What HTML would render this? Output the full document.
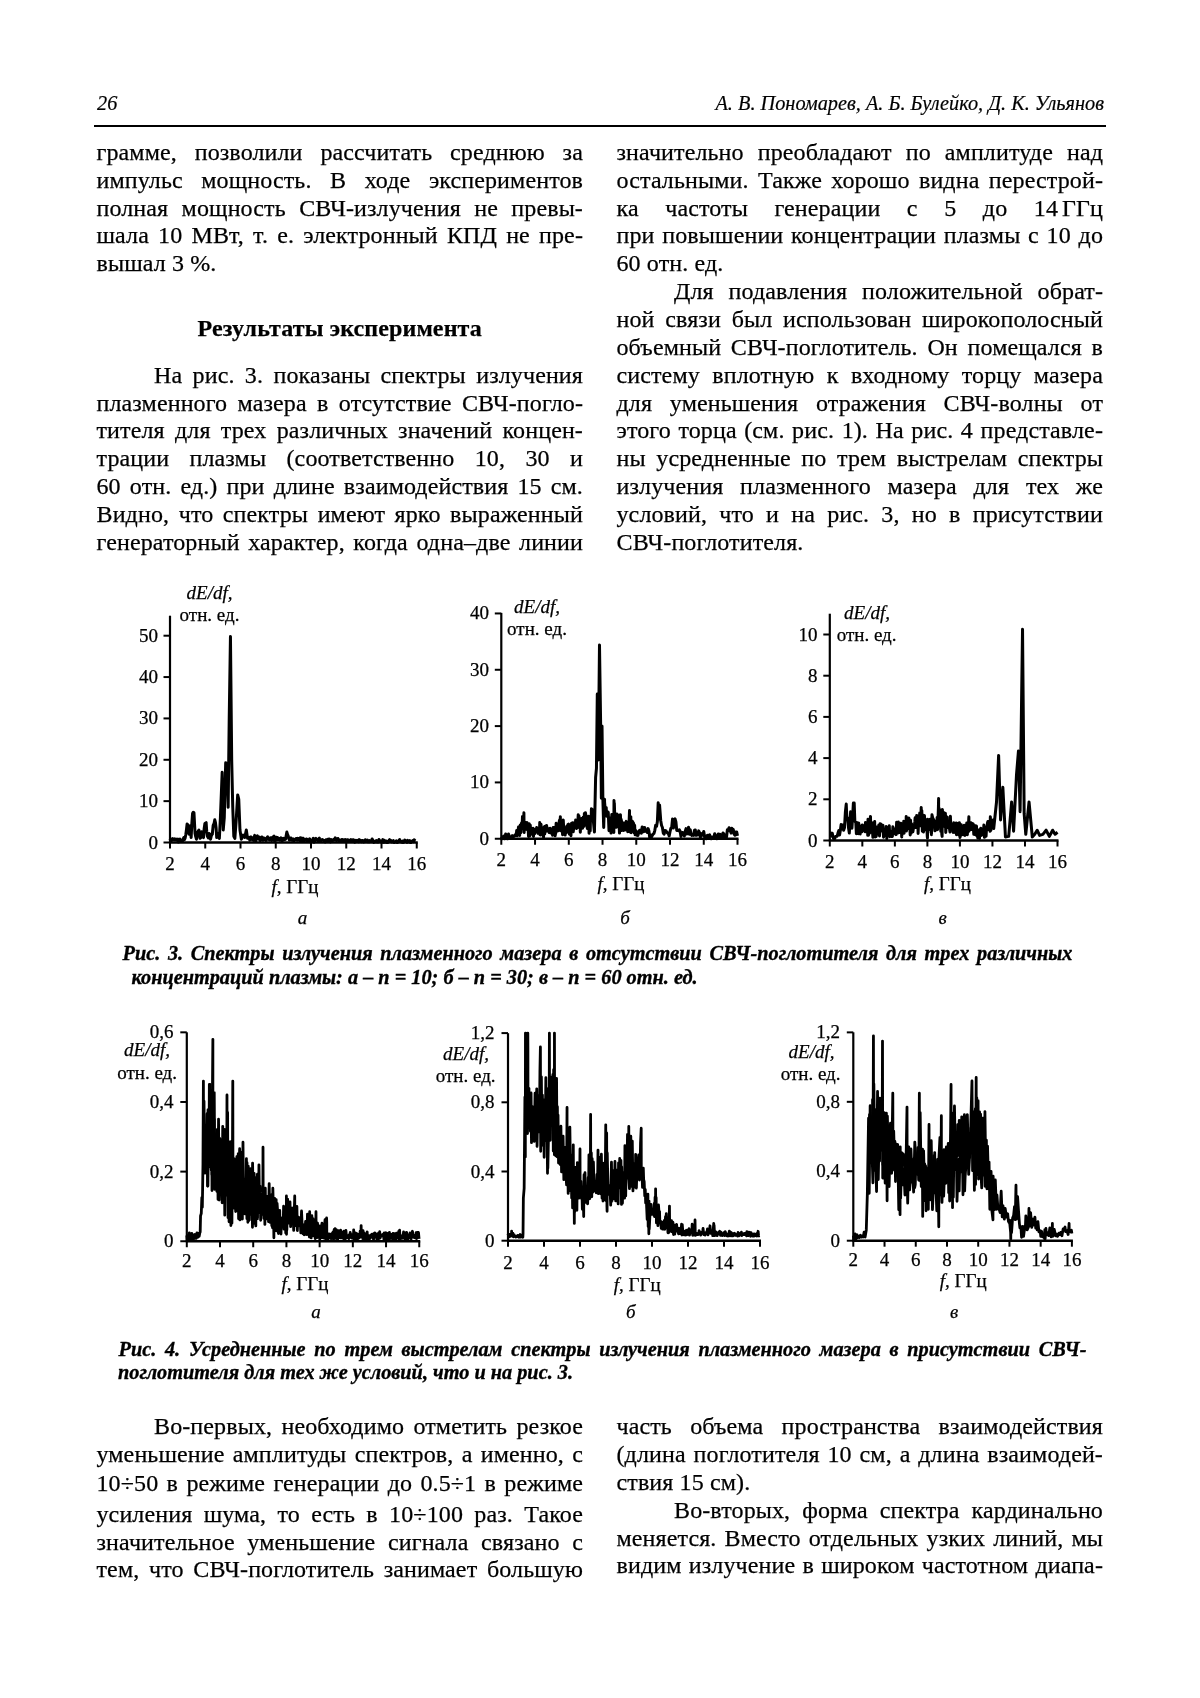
<!DOCTYPE html>
<html><head><meta charset="utf-8"><title>page</title>
<style>
html,body{margin:0;padding:0;background:#fff;}
body{width:1200px;height:1698px;position:relative;overflow:hidden;font-family:"Liberation Serif",serif;color:#000;}
.ln{position:absolute;white-space:nowrap;}
svg{position:absolute;left:0;top:0;}
.cl{font-family:"Liberation Serif",serif;font-size:19px;fill:#000;stroke:#000;stroke-width:0.25px;}
#pg{position:absolute;left:0;top:0;width:1200px;height:1698px;filter:blur(0.4px);}
</style></head><body><div id="pg">
<div class="ln" style="left:97.00px;top:91.46px;width:100.00px;font-size:20.3px;line-height:25.375px;text-align:left;text-align-last:left;font-weight:normal;font-style:italic;-webkit-text-stroke:0.2px #000;">26</div>
<div class="ln" style="left:600px;top:90.85px;width:504px;font-size:20.3px;line-height:25px;text-align:right;font-style:italic;-webkit-text-stroke:0.2px #000">А. В. Пономарев, А. Б. Булейко, Д. К. Ульянов</div>
<div style="position:absolute;left:94px;top:125px;width:1012px;height:2px;background:#000"></div>
<div class="ln" style="left:96.50px;top:136.90px;width:486.50px;font-size:24px;line-height:30.0px;text-align:justify;text-align-last:justify;font-weight:normal;font-style:normal;letter-spacing:0.12px;-webkit-text-stroke:0.25px #000;">грамме, позволили рассчитать среднюю за</div>
<div class="ln" style="left:96.50px;top:164.75px;width:486.50px;font-size:24px;line-height:30.0px;text-align:justify;text-align-last:justify;font-weight:normal;font-style:normal;letter-spacing:0.12px;-webkit-text-stroke:0.25px #000;">импульс мощность. В ходе экспериментов</div>
<div class="ln" style="left:96.50px;top:192.60px;width:486.50px;font-size:24px;line-height:30.0px;text-align:justify;text-align-last:justify;font-weight:normal;font-style:normal;letter-spacing:0.12px;-webkit-text-stroke:0.25px #000;">полная мощность СВЧ-излучения не превы-</div>
<div class="ln" style="left:96.50px;top:220.45px;width:486.50px;font-size:24px;line-height:30.0px;text-align:justify;text-align-last:justify;font-weight:normal;font-style:normal;letter-spacing:0.12px;-webkit-text-stroke:0.25px #000;">шала 10 МВт, т. е. электронный КПД не пре-</div>
<div class="ln" style="left:96.50px;top:248.30px;width:486.50px;font-size:24px;line-height:30.0px;text-align:left;text-align-last:left;font-weight:normal;font-style:normal;letter-spacing:0.12px;-webkit-text-stroke:0.25px #000;">вышал 3 %.</div>
<div class="ln" style="left:96.50px;top:313.20px;width:486.50px;font-size:24px;line-height:30.0px;text-align:left;text-align-last:left;font-weight:bold;font-style:normal;letter-spacing:0.12px;-webkit-text-stroke:0.25px #000;text-align:center;text-align-last:center;">Результаты эксперимента</div>
<div class="ln" style="left:154.00px;top:359.70px;width:429.00px;font-size:24px;line-height:30.0px;text-align:justify;text-align-last:justify;font-weight:normal;font-style:normal;letter-spacing:0.12px;-webkit-text-stroke:0.25px #000;">На рис. 3. показаны спектры излучения</div>
<div class="ln" style="left:96.50px;top:387.55px;width:486.50px;font-size:24px;line-height:30.0px;text-align:justify;text-align-last:justify;font-weight:normal;font-style:normal;letter-spacing:0.12px;-webkit-text-stroke:0.25px #000;">плазменного мазера в отсутствие СВЧ-погло-</div>
<div class="ln" style="left:96.50px;top:415.40px;width:486.50px;font-size:24px;line-height:30.0px;text-align:justify;text-align-last:justify;font-weight:normal;font-style:normal;letter-spacing:0.12px;-webkit-text-stroke:0.25px #000;">тителя для трех различных значений концен-</div>
<div class="ln" style="left:96.50px;top:443.25px;width:486.50px;font-size:24px;line-height:30.0px;text-align:justify;text-align-last:justify;font-weight:normal;font-style:normal;letter-spacing:0.12px;-webkit-text-stroke:0.25px #000;">трации плазмы (соответственно 10, 30 и</div>
<div class="ln" style="left:96.50px;top:471.10px;width:486.50px;font-size:24px;line-height:30.0px;text-align:justify;text-align-last:justify;font-weight:normal;font-style:normal;letter-spacing:0.12px;-webkit-text-stroke:0.25px #000;">60 отн. ед.) при длине взаимодействия 15 см.</div>
<div class="ln" style="left:96.50px;top:498.95px;width:486.50px;font-size:24px;line-height:30.0px;text-align:justify;text-align-last:justify;font-weight:normal;font-style:normal;letter-spacing:0.12px;-webkit-text-stroke:0.25px #000;">Видно, что спектры имеют ярко выраженный</div>
<div class="ln" style="left:96.50px;top:526.80px;width:486.50px;font-size:24px;line-height:30.0px;text-align:justify;text-align-last:justify;font-weight:normal;font-style:normal;letter-spacing:0.12px;-webkit-text-stroke:0.25px #000;">генераторный характер, когда одна–две линии</div>
<div class="ln" style="left:616.50px;top:136.90px;width:486.50px;font-size:24px;line-height:30.0px;text-align:justify;text-align-last:justify;font-weight:normal;font-style:normal;letter-spacing:0.12px;-webkit-text-stroke:0.25px #000;">значительно преобладают по амплитуде над</div>
<div class="ln" style="left:616.50px;top:164.75px;width:486.50px;font-size:24px;line-height:30.0px;text-align:justify;text-align-last:justify;font-weight:normal;font-style:normal;letter-spacing:0.12px;-webkit-text-stroke:0.25px #000;">остальными. Также хорошо видна перестрой-</div>
<div class="ln" style="left:616.50px;top:192.60px;width:486.50px;font-size:24px;line-height:30.0px;text-align:justify;text-align-last:justify;font-weight:normal;font-style:normal;letter-spacing:0.12px;-webkit-text-stroke:0.25px #000;">ка частоты генерации с 5 до <span style="white-space:nowrap">14<span style="display:inline-block;width:4px"></span>ГГц</span></div>
<div class="ln" style="left:616.50px;top:220.45px;width:486.50px;font-size:24px;line-height:30.0px;text-align:justify;text-align-last:justify;font-weight:normal;font-style:normal;letter-spacing:0.12px;-webkit-text-stroke:0.25px #000;">при повышении концентрации плазмы с 10 до</div>
<div class="ln" style="left:616.50px;top:248.30px;width:486.50px;font-size:24px;line-height:30.0px;text-align:left;text-align-last:left;font-weight:normal;font-style:normal;letter-spacing:0.12px;-webkit-text-stroke:0.25px #000;">60 отн. ед.</div>
<div class="ln" style="left:674.00px;top:276.15px;width:429.00px;font-size:24px;line-height:30.0px;text-align:justify;text-align-last:justify;font-weight:normal;font-style:normal;letter-spacing:0.12px;-webkit-text-stroke:0.25px #000;">Для подавления положительной обрат-</div>
<div class="ln" style="left:616.50px;top:304.00px;width:486.50px;font-size:24px;line-height:30.0px;text-align:justify;text-align-last:justify;font-weight:normal;font-style:normal;letter-spacing:0.12px;-webkit-text-stroke:0.25px #000;">ной связи был использован широкополосный</div>
<div class="ln" style="left:616.50px;top:331.85px;width:486.50px;font-size:24px;line-height:30.0px;text-align:justify;text-align-last:justify;font-weight:normal;font-style:normal;letter-spacing:0.12px;-webkit-text-stroke:0.25px #000;">объемный СВЧ-поглотитель. Он помещался в</div>
<div class="ln" style="left:616.50px;top:359.70px;width:486.50px;font-size:24px;line-height:30.0px;text-align:justify;text-align-last:justify;font-weight:normal;font-style:normal;letter-spacing:0.12px;-webkit-text-stroke:0.25px #000;">систему вплотную к входному торцу мазера</div>
<div class="ln" style="left:616.50px;top:387.55px;width:486.50px;font-size:24px;line-height:30.0px;text-align:justify;text-align-last:justify;font-weight:normal;font-style:normal;letter-spacing:0.12px;-webkit-text-stroke:0.25px #000;">для уменьшения отражения СВЧ-волны от</div>
<div class="ln" style="left:616.50px;top:415.40px;width:486.50px;font-size:24px;line-height:30.0px;text-align:justify;text-align-last:justify;font-weight:normal;font-style:normal;letter-spacing:0.12px;-webkit-text-stroke:0.25px #000;">этого торца (см. рис. 1). На рис. 4 представле-</div>
<div class="ln" style="left:616.50px;top:443.25px;width:486.50px;font-size:24px;line-height:30.0px;text-align:justify;text-align-last:justify;font-weight:normal;font-style:normal;letter-spacing:0.12px;-webkit-text-stroke:0.25px #000;">ны усредненные по трем выстрелам спектры</div>
<div class="ln" style="left:616.50px;top:471.10px;width:486.50px;font-size:24px;line-height:30.0px;text-align:justify;text-align-last:justify;font-weight:normal;font-style:normal;letter-spacing:0.12px;-webkit-text-stroke:0.25px #000;">излучения плазменного мазера для тех же</div>
<div class="ln" style="left:616.50px;top:498.95px;width:486.50px;font-size:24px;line-height:30.0px;text-align:justify;text-align-last:justify;font-weight:normal;font-style:normal;letter-spacing:0.12px;-webkit-text-stroke:0.25px #000;">условий, что и на рис. 3, но в присутствии</div>
<div class="ln" style="left:616.50px;top:526.80px;width:486.50px;font-size:24px;line-height:30.0px;text-align:left;text-align-last:left;font-weight:normal;font-style:normal;letter-spacing:0.12px;-webkit-text-stroke:0.25px #000;">СВЧ-поглотителя.</div>
<div class="ln" style="left:154.00px;top:1411.40px;width:429.00px;font-size:24px;line-height:30.0px;text-align:justify;text-align-last:justify;font-weight:normal;font-style:normal;letter-spacing:0.12px;-webkit-text-stroke:0.25px #000;">Во-первых, необходимо отметить резкое</div>
<div class="ln" style="left:96.50px;top:1439.20px;width:486.50px;font-size:24px;line-height:30.0px;text-align:justify;text-align-last:justify;font-weight:normal;font-style:normal;letter-spacing:0.12px;-webkit-text-stroke:0.25px #000;">уменьшение амплитуды спектров, а именно, с</div>
<div class="ln" style="left:96.50px;top:1468.45px;width:486.50px;font-size:24px;line-height:30.0px;text-align:justify;text-align-last:justify;font-weight:normal;font-style:normal;letter-spacing:0.12px;-webkit-text-stroke:0.25px #000;">10÷50 в режиме генерации до 0.5÷1 в режиме</div>
<div class="ln" style="left:96.50px;top:1499.10px;width:486.50px;font-size:24px;line-height:30.0px;text-align:justify;text-align-last:justify;font-weight:normal;font-style:normal;letter-spacing:0.12px;-webkit-text-stroke:0.25px #000;">усиления шума, то есть в 10÷100 раз. Такое</div>
<div class="ln" style="left:96.50px;top:1526.50px;width:486.50px;font-size:24px;line-height:30.0px;text-align:justify;text-align-last:justify;font-weight:normal;font-style:normal;letter-spacing:0.12px;-webkit-text-stroke:0.25px #000;">значительное уменьшение сигнала связано с</div>
<div class="ln" style="left:96.50px;top:1554.30px;width:486.50px;font-size:24px;line-height:30.0px;text-align:justify;text-align-last:justify;font-weight:normal;font-style:normal;letter-spacing:0.12px;-webkit-text-stroke:0.25px #000;">тем, что СВЧ-поглотитель занимает большую</div>
<div class="ln" style="left:616.50px;top:1411.40px;width:486.50px;font-size:24px;line-height:30.0px;text-align:justify;text-align-last:justify;font-weight:normal;font-style:normal;letter-spacing:0.12px;-webkit-text-stroke:0.25px #000;">часть объема пространства взаимодействия</div>
<div class="ln" style="left:616.50px;top:1439.20px;width:486.50px;font-size:24px;line-height:30.0px;text-align:justify;text-align-last:justify;font-weight:normal;font-style:normal;letter-spacing:0.12px;-webkit-text-stroke:0.25px #000;">(длина поглотителя 10 см, а длина взаимодей-</div>
<div class="ln" style="left:616.50px;top:1467.00px;width:486.50px;font-size:24px;line-height:30.0px;text-align:left;text-align-last:left;font-weight:normal;font-style:normal;letter-spacing:0.12px;-webkit-text-stroke:0.25px #000;">ствия 15 см).</div>
<div class="ln" style="left:674.00px;top:1494.80px;width:429.00px;font-size:24px;line-height:30.0px;text-align:justify;text-align-last:justify;font-weight:normal;font-style:normal;letter-spacing:0.12px;-webkit-text-stroke:0.25px #000;">Во-вторых, форма спектра кардинально</div>
<div class="ln" style="left:616.50px;top:1522.50px;width:486.50px;font-size:24px;line-height:30.0px;text-align:justify;text-align-last:justify;font-weight:normal;font-style:normal;letter-spacing:0.12px;-webkit-text-stroke:0.25px #000;">меняется. Вместо отдельных узких линий, мы</div>
<div class="ln" style="left:616.50px;top:1550.30px;width:486.50px;font-size:24px;line-height:30.0px;text-align:justify;text-align-last:justify;font-weight:normal;font-style:normal;letter-spacing:0.12px;-webkit-text-stroke:0.25px #000;">видим излучение в широком частотном диапа-</div>
<div class="ln" style="left:122.50px;top:941.46px;width:950.00px;font-size:20.3px;line-height:25.375px;text-align:justify;text-align-last:justify;font-weight:bold;font-style:italic;-webkit-text-stroke:0.35px #000;">Рис. 3. Спектры излучения плазменного мазера в отсутствии СВЧ-поглотителя для трех различных</div>
<div class="ln" style="left:131.50px;top:964.56px;width:900.00px;font-size:20.3px;line-height:25.375px;text-align:left;text-align-last:left;font-weight:bold;font-style:italic;-webkit-text-stroke:0.35px #000;">концентраций плазмы: а – n = 10; б – n = 30; в – n = 60 отн. ед.</div>
<div class="ln" style="left:118.50px;top:1337.16px;width:968.00px;font-size:20.3px;line-height:25.375px;text-align:justify;text-align-last:justify;font-weight:bold;font-style:italic;-webkit-text-stroke:0.35px #000;">Рис. 4. Усредненные по трем выстрелам спектры излучения плазменного мазера в присутствии СВЧ-</div>
<div class="ln" style="left:118.00px;top:1360.16px;width:900.00px;font-size:20.3px;line-height:25.375px;text-align:left;text-align-last:left;font-weight:bold;font-style:italic;-webkit-text-stroke:0.35px #000;">поглотителя для тех же условий, что и на рис. 3.</div>
<svg width="1200" height="1698" viewBox="0 0 1200 1698">
<line x1="170" y1="615.7" x2="170" y2="842.5" stroke="#000" stroke-width="2.2"/>
<line x1="169" y1="842.5" x2="417.75" y2="842.5" stroke="#000" stroke-width="2.5"/>
<line x1="163.5" y1="842.50" x2="170" y2="842.50" stroke="#000" stroke-width="2"/>
<text x="158" y="848.50" text-anchor="end" class="cl">0</text>
<line x1="163.5" y1="801.14" x2="170" y2="801.14" stroke="#000" stroke-width="2"/>
<text x="158" y="807.14" text-anchor="end" class="cl">10</text>
<line x1="163.5" y1="759.78" x2="170" y2="759.78" stroke="#000" stroke-width="2"/>
<text x="158" y="765.78" text-anchor="end" class="cl">20</text>
<line x1="163.5" y1="718.42" x2="170" y2="718.42" stroke="#000" stroke-width="2"/>
<text x="158" y="724.42" text-anchor="end" class="cl">30</text>
<line x1="163.5" y1="677.06" x2="170" y2="677.06" stroke="#000" stroke-width="2"/>
<text x="158" y="683.06" text-anchor="end" class="cl">40</text>
<line x1="163.5" y1="635.70" x2="170" y2="635.70" stroke="#000" stroke-width="2"/>
<text x="158" y="641.70" text-anchor="end" class="cl">50</text>
<line x1="170.00" y1="842.5" x2="170.00" y2="848.5" stroke="#000" stroke-width="2"/>
<text x="170.00" y="869.5" text-anchor="middle" class="cl">2</text>
<line x1="205.25" y1="842.5" x2="205.25" y2="848.5" stroke="#000" stroke-width="2"/>
<text x="205.25" y="869.5" text-anchor="middle" class="cl">4</text>
<line x1="240.50" y1="842.5" x2="240.50" y2="848.5" stroke="#000" stroke-width="2"/>
<text x="240.50" y="869.5" text-anchor="middle" class="cl">6</text>
<line x1="275.75" y1="842.5" x2="275.75" y2="848.5" stroke="#000" stroke-width="2"/>
<text x="275.75" y="869.5" text-anchor="middle" class="cl">8</text>
<line x1="311.00" y1="842.5" x2="311.00" y2="848.5" stroke="#000" stroke-width="2"/>
<text x="311.00" y="869.5" text-anchor="middle" class="cl">10</text>
<line x1="346.25" y1="842.5" x2="346.25" y2="848.5" stroke="#000" stroke-width="2"/>
<text x="346.25" y="869.5" text-anchor="middle" class="cl">12</text>
<line x1="381.50" y1="842.5" x2="381.50" y2="848.5" stroke="#000" stroke-width="2"/>
<text x="381.50" y="869.5" text-anchor="middle" class="cl">14</text>
<line x1="416.75" y1="842.5" x2="416.75" y2="848.5" stroke="#000" stroke-width="2"/>
<text x="416.75" y="869.5" text-anchor="middle" class="cl">16</text>
<text x="295" y="893" text-anchor="middle" class="cl"><tspan font-style="italic">f</tspan>, ГГц</text>
<text x="302.5" y="923.7" text-anchor="middle" class="cl" font-style="italic">а</text>
<text x="209.5" y="599.3" text-anchor="middle" class="cl" font-style="italic">dE/df,</text>
<text x="209.5" y="620.7" text-anchor="middle" class="cl">отн. ед.</text>
<polyline points="170.00,840.43 170.66,838.94 171.32,840.93 171.98,839.40 172.64,838.66 173.30,839.56 173.97,839.91 174.63,838.93 175.29,840.02 175.95,839.08 176.61,840.22 177.27,839.77 177.93,839.03 178.59,842.09 179.25,839.52 179.91,839.15 180.57,840.23 181.22,840.57 181.87,839.99 182.51,841.12 183.16,839.14 183.81,837.61 184.45,839.60 185.16,837.87 185.86,834.23 186.48,829.33 187.10,823.89 188.15,825.13 189.03,834.23 190.09,825.96 191.15,837.54 191.85,823.27 192.56,813.55 193.26,812.22 193.97,812.72 195.03,833.40 195.73,836.69 196.44,839.19 197.14,834.63 197.85,831.75 198.91,830.09 199.96,838.36 200.84,837.58 201.72,831.75 202.61,836.65 203.49,837.54 204.19,828.36 204.90,823.47 206.13,822.65 206.75,831.66 207.37,836.30 208.25,837.86 209.13,833.40 209.83,834.18 210.54,839.19 211.42,835.45 212.30,834.23 213.18,825.30 214.06,823.47 214.77,819.73 215.47,822.65 216.09,827.64 216.71,837.54 217.94,833.40 218.64,836.72 219.35,838.36 220.41,817.68 222.17,772.19 223.23,830.09 224.28,817.68 225.69,762.68 227.11,763.92 228.16,807.34 229.22,718.42 230.45,636.53 231.69,759.78 232.75,807.34 233.80,836.30 234.86,838.36 236.09,821.82 237.68,794.94 238.74,799.07 239.97,830.09 241.38,839.19 243.14,835.06 244.73,837.54 246.32,830.09 247.55,838.36 248.43,837.59 249.11,837.28 249.78,840.13 250.39,837.67 250.99,836.94 251.59,837.36 252.28,839.68 252.97,839.85 253.56,840.29 254.16,836.93 254.69,835.38 255.23,837.58 255.77,841.11 256.30,839.32 256.84,836.77 257.38,835.83 257.92,838.61 258.46,837.01 259.00,836.91 259.53,839.68 260.23,840.70 260.92,838.18 261.61,837.00 262.29,837.26 262.98,840.22 263.59,839.53 264.21,838.06 264.79,838.75 265.36,839.60 266.13,840.47 266.90,837.79 267.57,836.84 268.23,838.88 268.89,839.41 269.45,839.96 270.01,838.13 270.58,837.81 271.15,837.79 271.72,840.55 272.29,839.14 272.86,837.08 273.43,836.79 274.06,836.08 274.68,841.23 275.31,840.61 275.84,839.44 276.37,837.19 276.90,839.84 277.44,837.53 277.97,839.38 278.51,838.61 279.04,838.51 279.58,840.12 280.23,838.75 280.88,837.83 281.48,838.32 282.07,841.23 282.67,839.94 283.37,838.34 284.07,839.64 284.77,838.30 285.46,839.36 286.15,835.80 286.86,832.06 287.56,834.66 288.14,835.77 288.72,838.46 289.31,840.07 290.34,837.98 290.93,838.07 291.52,840.17 292.28,839.57 293.03,838.79 293.65,841.18 294.26,840.50 295.04,839.19 295.82,838.74 296.48,838.48 297.15,840.30 297.79,838.38 298.43,838.52 299.04,839.40 299.65,840.69 300.28,837.70 300.91,838.12 301.50,838.08 302.09,841.27 302.68,838.45 303.27,838.35 303.85,839.58 304.42,840.70 305.00,840.44 305.64,839.90 306.28,838.97 306.91,839.19 307.44,841.41 307.97,841.09 308.52,840.10 309.06,839.78 309.61,838.79 310.19,841.72 310.78,840.67 311.39,840.64 311.99,840.36 312.60,839.60 313.29,838.27 313.98,842.20 314.66,840.94 315.24,838.77 315.82,838.32 316.40,839.37 316.99,839.48 317.58,840.42 318.19,840.86 318.80,838.71 319.34,838.17 319.89,841.14 320.44,841.10 320.98,840.99 321.70,839.62 322.42,839.51 322.96,840.08 323.51,840.19 324.05,841.09 324.59,840.55 325.33,842.01 326.06,839.70 326.69,841.05 327.32,841.42 327.93,839.20 328.53,839.29 329.24,838.97 329.95,841.11 330.64,841.94 331.32,839.65 331.98,839.94 332.63,840.65 333.41,840.43 334.20,839.04 334.73,839.84 335.27,837.86 335.81,838.98 336.35,840.62 336.88,840.42 337.41,840.25 337.94,838.43 338.47,839.94 339.10,840.92 339.73,840.05 340.37,841.56 340.95,839.88 341.53,839.77 342.25,839.49 342.96,841.00 343.50,840.89 344.03,839.73 344.57,840.15 345.31,839.68 346.06,841.55 346.59,841.35 347.12,839.73 347.90,839.70 348.68,841.50 349.23,841.09 349.77,840.44 350.32,840.21 350.86,839.61 351.51,840.98 352.16,841.46 352.86,839.66 353.55,839.63 354.15,840.71 354.76,842.14 355.36,841.81 356.04,840.39 356.73,841.21 357.41,840.42 358.07,840.83 358.73,841.76 359.30,839.64 359.88,840.24 360.45,840.21 361.47,841.72 362.42,840.50 362.98,840.74 363.53,841.86 364.08,840.78 364.64,841.79 365.32,839.75 366.00,840.08 366.69,840.26 367.27,840.03 367.85,841.64 368.60,841.74 369.35,840.61 369.93,841.69 370.51,841.45 371.05,841.58 371.58,840.79 372.12,838.96 372.66,839.98 373.27,840.74 373.89,842.33 374.50,841.93 375.13,841.34 375.76,841.75 376.38,840.49 376.97,840.88 377.56,842.12 378.25,842.06 378.94,839.57 379.63,840.41 380.16,841.07 380.70,841.09 381.23,841.55 381.77,842.28 382.30,841.92 382.83,839.60 383.36,840.43 383.93,842.39 384.51,840.34 385.09,841.55 385.77,842.10 386.44,841.00 387.14,842.50 387.83,842.44 388.52,841.48 389.07,840.41 389.61,839.67 390.15,840.92 390.72,840.30 391.29,841.58 391.98,842.03 392.67,841.00 393.36,840.68 394.05,842.50 394.74,842.21 395.29,842.00 395.84,842.04 396.39,840.84 397.10,842.50 397.81,841.97 398.36,841.91 398.91,840.51 399.60,839.51 400.29,841.26 400.99,841.79 401.74,842.13 402.49,840.97 403.24,842.50 403.98,841.99 404.72,840.04 405.46,840.64 406.47,841.59 407.07,842.40 407.68,840.39 408.68,841.58 409.68,840.64 410.27,842.50 410.86,842.50 411.46,841.67 412.45,840.79 413.04,840.40 413.62,841.72 414.34,839.87 415.05,840.94" fill="none" stroke="#000" stroke-width="3" stroke-linejoin="round"/>
<line x1="501.3" y1="612.9" x2="501.3" y2="838.75" stroke="#000" stroke-width="2.2"/>
<line x1="500.3" y1="838.75" x2="738.5" y2="838.75" stroke="#000" stroke-width="2.5"/>
<line x1="494.8" y1="838.75" x2="501.3" y2="838.75" stroke="#000" stroke-width="2"/>
<text x="489" y="844.75" text-anchor="end" class="cl">0</text>
<line x1="494.8" y1="782.42" x2="501.3" y2="782.42" stroke="#000" stroke-width="2"/>
<text x="489" y="788.42" text-anchor="end" class="cl">10</text>
<line x1="494.8" y1="726.10" x2="501.3" y2="726.10" stroke="#000" stroke-width="2"/>
<text x="489" y="732.10" text-anchor="end" class="cl">20</text>
<line x1="494.8" y1="669.77" x2="501.3" y2="669.77" stroke="#000" stroke-width="2"/>
<text x="489" y="675.77" text-anchor="end" class="cl">30</text>
<line x1="494.8" y1="613.45" x2="501.3" y2="613.45" stroke="#000" stroke-width="2"/>
<text x="489" y="619.45" text-anchor="end" class="cl">40</text>
<line x1="501.30" y1="838.75" x2="501.30" y2="844.75" stroke="#000" stroke-width="2"/>
<text x="501.30" y="866.3" text-anchor="middle" class="cl">2</text>
<line x1="535.04" y1="838.75" x2="535.04" y2="844.75" stroke="#000" stroke-width="2"/>
<text x="535.04" y="866.3" text-anchor="middle" class="cl">4</text>
<line x1="568.79" y1="838.75" x2="568.79" y2="844.75" stroke="#000" stroke-width="2"/>
<text x="568.79" y="866.3" text-anchor="middle" class="cl">6</text>
<line x1="602.53" y1="838.75" x2="602.53" y2="844.75" stroke="#000" stroke-width="2"/>
<text x="602.53" y="866.3" text-anchor="middle" class="cl">8</text>
<line x1="636.27" y1="838.75" x2="636.27" y2="844.75" stroke="#000" stroke-width="2"/>
<text x="636.27" y="866.3" text-anchor="middle" class="cl">10</text>
<line x1="670.01" y1="838.75" x2="670.01" y2="844.75" stroke="#000" stroke-width="2"/>
<text x="670.01" y="866.3" text-anchor="middle" class="cl">12</text>
<line x1="703.76" y1="838.75" x2="703.76" y2="844.75" stroke="#000" stroke-width="2"/>
<text x="703.76" y="866.3" text-anchor="middle" class="cl">14</text>
<line x1="737.50" y1="838.75" x2="737.50" y2="844.75" stroke="#000" stroke-width="2"/>
<text x="737.50" y="866.3" text-anchor="middle" class="cl">16</text>
<text x="621" y="890" text-anchor="middle" class="cl"><tspan font-style="italic">f</tspan>, ГГц</text>
<text x="625" y="923.7" text-anchor="middle" class="cl" font-style="italic">б</text>
<text x="537" y="612.7" text-anchor="middle" class="cl" font-style="italic">dE/df,</text>
<text x="537" y="634.7" text-anchor="middle" class="cl">отн. ед.</text>
<polyline points="501.30,837.06 502.02,838.75 502.75,836.90 503.47,836.21 504.19,838.75 504.92,838.75 505.64,834.00 506.36,836.50 507.08,838.75 507.81,838.75 508.53,834.04 509.25,836.08 509.98,837.69 510.70,836.91 511.42,837.06 512.27,835.70 513.11,837.66 513.95,835.93 514.80,835.38 515.39,835.77 515.80,834.12 516.20,835.50 516.71,830.46 517.26,835.74 517.85,833.16 518.48,827.03 518.93,827.28 519.67,835.43 520.24,825.09 520.81,832.69 521.52,823.02 522.12,826.61 522.49,816.56 522.86,826.76 523.37,828.20 523.91,812.84 524.08,829.97 524.10,832.56 524.53,825.61 524.82,825.16 525.11,822.12 525.66,829.31 525.99,822.89 526.71,827.04 526.99,822.48 527.56,830.00 527.95,824.42 528.53,836.43 529.24,823.80 529.61,836.23 530.26,825.02 530.71,831.41 531.30,830.20 531.59,833.00 532.28,831.87 532.77,835.14 533.14,828.22 533.49,836.47 534.09,829.34 534.71,833.67 535.41,829.59 536.07,831.13 536.67,827.48 537.00,830.11 537.59,831.47 538.03,833.30 538.40,828.27 539.04,833.20 539.51,829.89 539.77,822.42 539.90,834.64 539.94,832.82 540.18,826.11 540.59,835.11 541.04,824.30 541.43,834.26 542.15,830.90 542.53,828.78 542.92,829.15 543.24,832.07 543.56,837.34 543.65,828.59 543.73,827.72 543.95,831.52 544.25,826.70 544.76,834.01 545.23,826.33 545.88,831.44 546.30,829.52 546.56,825.42 547.03,827.97 547.65,831.01 548.07,829.07 548.36,828.87 549.11,832.42 549.75,831.38 550.18,828.25 550.43,833.03 551.14,829.53 551.84,830.22 552.12,832.65 552.57,835.23 553.19,827.48 553.82,833.94 554.19,831.78 554.48,834.25 554.78,827.26 555.14,835.85 555.45,833.99 555.75,833.05 556.14,823.36 556.84,831.13 557.46,827.81 558.14,830.89 558.83,824.96 559.26,821.17 559.72,819.73 560.14,827.09 560.35,816.78 560.52,830.78 560.89,824.20 561.63,828.12 562.14,828.75 562.58,834.64 563.26,820.03 563.97,833.46 564.70,827.89 565.16,835.12 565.64,827.46 566.20,832.97 566.82,826.18 567.42,831.33 567.85,824.71 568.55,824.07 568.81,827.02 569.37,834.22 569.96,828.86 570.26,830.28 570.70,825.07 570.97,835.75 571.56,823.31 572.27,825.65 572.92,822.65 573.23,831.73 573.73,827.77 574.04,828.36 574.75,827.23 575.12,827.76 575.67,819.96 576.12,827.94 576.52,828.49 577.07,827.27 577.37,826.10 577.86,821.87 578.25,814.67 578.69,822.50 579.00,816.08 579.26,827.77 579.81,818.23 580.31,832.25 580.86,822.51 581.55,818.40 582.07,823.38 582.59,828.14 583.21,817.31 583.74,826.41 584.39,813.43 584.97,820.22 585.44,812.63 585.92,815.57 586.60,825.25 587.35,828.42 587.82,821.48 588.17,822.14 588.67,816.36 589.05,833.33 589.73,820.58 590.20,830.90 590.50,817.29 591.09,820.89 591.42,808.67 592.74,810.03 593.59,823.50 594.43,831.99 595.61,777.36 596.45,768.34 597.30,693.99 598.31,759.89 599.49,644.99 600.67,726.10 601.35,798.20 602.02,726.10 602.87,799.32 603.71,827.49 604.55,799.32 604.55,801.58 605.06,807.84 605.66,814.06 606.19,807.43 606.65,816.19 607.36,811.40 607.69,815.95 608.25,812.32 609.00,830.79 609.62,817.87 610.18,823.17 610.94,821.23 611.05,833.12 611.22,819.32 611.34,831.53 611.78,814.50 612.47,832.09 613.12,814.29 613.82,832.50 614.00,800.45 614.17,823.32 614.33,803.13 615.02,825.03 615.56,814.00 616.22,827.34 616.97,814.04 617.27,826.60 617.75,819.62 618.02,822.04 618.45,823.17 618.83,820.73 619.30,828.93 619.48,833.12 619.65,815.02 620.05,825.81 620.44,814.70 620.76,830.59 621.18,819.26 621.47,830.59 621.77,821.47 622.27,829.21 622.87,823.31 623.31,830.48 623.63,827.92 623.93,830.01 624.29,823.06 624.89,829.98 625.29,826.19 625.64,825.49 626.25,821.38 626.51,824.85 626.96,822.43 627.68,831.64 628.26,827.86 628.88,827.79 629.52,810.59 629.55,815.98 629.69,826.82 629.93,832.05 630.23,818.09 630.50,825.58 630.79,816.65 631.12,832.64 631.78,822.35 632.23,821.12 632.58,821.56 633.22,822.89 633.62,823.45 634.16,832.86 634.60,825.16 635.13,834.86 635.51,831.05 635.80,830.61 636.33,831.33 636.96,835.19 637.53,832.70 637.96,835.42 638.80,831.99 639.65,830.19 640.49,832.81 641.33,833.12 642.18,826.92 643.02,827.49 643.86,831.63 644.71,827.49 645.55,831.13 646.39,830.30 647.24,832.39 648.08,828.61 648.92,831.00 649.77,838.19 650.61,835.04 651.46,837.11 652.30,835.37 653.14,834.16 653.99,833.39 654.83,830.30 655.67,825.34 656.52,826.36 657.36,821.73 658.20,802.70 658.88,818.93 659.55,804.96 660.74,820.73 661.58,825.51 662.42,827.49 663.27,833.05 664.11,834.24 664.95,830.54 665.80,830.67 666.64,831.99 667.48,832.98 668.33,833.48 669.17,835.93 670.01,831.76 670.86,828.32 671.70,827.49 672.54,818.97 673.39,828.11 674.23,820.73 675.08,818.80 675.92,821.85 676.76,830.39 677.61,830.30 678.45,830.71 679.29,829.74 680.14,831.25 680.98,836.50 681.82,832.79 682.67,832.55 683.51,833.12 684.36,836.06 685.20,831.46 686.04,828.61 686.89,834.09 687.73,833.12 688.57,827.21 689.42,834.27 690.26,829.74 691.10,834.48 691.95,835.37 692.79,834.76 693.63,835.31 694.48,830.30 695.32,830.04 696.16,835.37 697.01,832.84 697.85,834.93 698.70,830.86 699.54,832.57 700.38,837.21 701.23,835.93 702.07,833.65 702.91,834.82 703.76,831.43 704.60,837.02 705.44,837.06 706.12,838.75 706.79,836.05 707.47,835.22 708.14,836.76 708.82,835.37 709.66,834.93 710.51,837.11 711.35,838.75 712.19,837.06 713.04,837.89 713.88,837.13 714.72,833.73 715.57,835.93 716.24,838.48 716.92,838.75 717.59,836.24 718.27,834.04 718.94,837.06 719.78,834.18 720.63,835.01 721.47,838.40 722.32,835.37 722.99,832.95 723.67,833.76 724.34,837.72 725.02,835.18 725.69,834.81 726.53,837.12 727.38,829.75 728.22,830.86 729.06,827.76 729.91,829.74 731.09,833.12 731.76,828.23 732.44,829.17 733.28,829.48 734.13,834.24 734.97,835.11 735.81,831.99 736.66,831.92 737.50,835.93" fill="none" stroke="#000" stroke-width="3" stroke-linejoin="round"/>
<line x1="829.8" y1="613.7" x2="829.8" y2="840.5" stroke="#000" stroke-width="2.2"/>
<line x1="828.8" y1="840.5" x2="1058.5" y2="840.5" stroke="#000" stroke-width="2.5"/>
<line x1="823.3" y1="840.50" x2="829.8" y2="840.50" stroke="#000" stroke-width="2"/>
<text x="817.5" y="846.50" text-anchor="end" class="cl">0</text>
<line x1="823.3" y1="799.30" x2="829.8" y2="799.30" stroke="#000" stroke-width="2"/>
<text x="817.5" y="805.30" text-anchor="end" class="cl">2</text>
<line x1="823.3" y1="758.10" x2="829.8" y2="758.10" stroke="#000" stroke-width="2"/>
<text x="817.5" y="764.10" text-anchor="end" class="cl">4</text>
<line x1="823.3" y1="716.90" x2="829.8" y2="716.90" stroke="#000" stroke-width="2"/>
<text x="817.5" y="722.90" text-anchor="end" class="cl">6</text>
<line x1="823.3" y1="675.70" x2="829.8" y2="675.70" stroke="#000" stroke-width="2"/>
<text x="817.5" y="681.70" text-anchor="end" class="cl">8</text>
<line x1="823.3" y1="634.50" x2="829.8" y2="634.50" stroke="#000" stroke-width="2"/>
<text x="817.5" y="640.50" text-anchor="end" class="cl">10</text>
<line x1="829.80" y1="840.5" x2="829.80" y2="846.5" stroke="#000" stroke-width="2"/>
<text x="829.80" y="867.5" text-anchor="middle" class="cl">2</text>
<line x1="862.33" y1="840.5" x2="862.33" y2="846.5" stroke="#000" stroke-width="2"/>
<text x="862.33" y="867.5" text-anchor="middle" class="cl">4</text>
<line x1="894.86" y1="840.5" x2="894.86" y2="846.5" stroke="#000" stroke-width="2"/>
<text x="894.86" y="867.5" text-anchor="middle" class="cl">6</text>
<line x1="927.39" y1="840.5" x2="927.39" y2="846.5" stroke="#000" stroke-width="2"/>
<text x="927.39" y="867.5" text-anchor="middle" class="cl">8</text>
<line x1="959.91" y1="840.5" x2="959.91" y2="846.5" stroke="#000" stroke-width="2"/>
<text x="959.91" y="867.5" text-anchor="middle" class="cl">10</text>
<line x1="992.44" y1="840.5" x2="992.44" y2="846.5" stroke="#000" stroke-width="2"/>
<text x="992.44" y="867.5" text-anchor="middle" class="cl">12</text>
<line x1="1024.97" y1="840.5" x2="1024.97" y2="846.5" stroke="#000" stroke-width="2"/>
<text x="1024.97" y="867.5" text-anchor="middle" class="cl">14</text>
<line x1="1057.50" y1="840.5" x2="1057.50" y2="846.5" stroke="#000" stroke-width="2"/>
<text x="1057.50" y="867.5" text-anchor="middle" class="cl">16</text>
<text x="947.5" y="890" text-anchor="middle" class="cl"><tspan font-style="italic">f</tspan>, ГГц</text>
<text x="942.5" y="923.7" text-anchor="middle" class="cl" font-style="italic">в</text>
<text x="867" y="618.7" text-anchor="middle" class="cl" font-style="italic">dE/df,</text>
<text x="866.6" y="641.3" text-anchor="middle" class="cl">отн. ед.</text>
<polyline points="829.80,833.29 830.78,833.08 831.53,836.04 832.29,833.25 833.05,837.41 833.87,838.95 834.68,838.67 835.49,836.38 836.31,836.40 837.12,836.21 837.93,833.29 838.75,830.59 839.56,835.00 840.37,830.20 841.10,824.60 841.84,828.96 842.73,825.08 843.62,830.20 844.49,827.73 845.36,812.24 846.23,804.04 846.96,820.25 847.69,817.84 848.50,827.88 849.32,833.08 850.62,811.66 851.27,821.10 851.92,828.14 852.65,816.24 853.38,803.01 854.20,803.01 854.85,821.18 855.82,822.51 856.37,833.68 856.95,822.38 857.61,833.00 858.02,823.72 858.39,833.82 858.73,822.99 859.24,832.05 859.62,825.45 860.15,833.94 860.40,832.10 860.93,830.77 861.60,831.03 862.03,831.79 862.36,824.91 863.00,827.14 863.59,825.66 864.12,828.17 864.58,830.04 865.17,831.76 865.47,822.51 865.99,824.06 866.42,830.32 866.69,829.84 867.14,824.06 867.75,835.32 868.00,819.18 868.52,835.20 869.15,821.03 869.57,833.31 869.83,826.30 870.18,824.78 870.46,816.40 870.56,819.25 870.62,831.83 870.81,829.94 871.29,821.88 871.93,832.48 872.36,828.89 872.90,837.33 873.60,828.04 874.12,823.18 874.66,821.54 875.03,836.96 875.53,834.15 876.21,836.48 876.91,826.89 877.56,834.12 878.17,833.69 878.46,831.19 878.84,824.96 879.53,835.94 880.04,823.83 880.60,830.63 880.97,824.04 881.37,830.19 881.76,825.63 882.43,831.20 882.93,825.14 883.56,837.21 884.19,830.01 884.89,835.52 885.14,830.70 885.81,832.12 886.24,826.47 886.81,831.43 886.81,838.85 886.97,828.47 887.51,829.14 887.86,828.59 888.19,830.63 888.60,832.17 889.29,825.73 889.74,836.68 890.36,831.54 890.66,835.56 890.97,832.70 891.47,836.37 891.85,835.35 892.36,836.38 892.86,826.84 893.37,834.04 893.89,829.77 894.41,833.70 894.86,831.98 895.27,832.76 895.56,828.73 896.08,834.63 896.64,822.15 897.11,832.04 897.50,823.37 898.09,832.95 898.39,822.01 899.10,832.59 899.52,826.40 899.79,832.14 900.25,826.20 900.76,823.22 901.18,825.06 901.74,836.94 902.37,823.60 902.77,828.13 903.07,833.25 903.46,829.01 903.78,821.15 904.12,833.19 904.49,824.42 904.97,829.20 905.38,824.95 905.64,823.37 906.12,820.91 906.24,816.40 906.40,830.96 906.85,828.72 907.57,822.83 908.18,828.40 908.84,817.93 909.31,826.55 909.83,826.40 910.19,835.04 910.54,820.35 911.20,833.31 911.61,823.73 912.02,832.04 912.52,826.33 912.88,831.74 913.52,827.79 914.21,826.46 914.50,824.71 914.84,821.43 915.12,817.77 915.62,827.58 915.97,823.50 916.34,824.60 916.67,815.49 917.16,818.94 917.68,816.08 918.11,833.45 918.48,824.38 919.16,826.01 919.72,813.10 920.01,818.29 920.51,825.78 921.21,807.54 921.24,819.71 921.37,825.73 921.80,810.60 922.34,831.29 922.70,814.85 923.40,832.05 924.03,826.73 924.44,815.53 924.69,819.85 925.42,824.65 926.03,823.08 926.36,830.33 926.63,822.46 927.29,836.54 927.47,838.03 927.54,819.35 927.63,822.45 927.81,832.61 928.31,821.68 928.95,828.04 929.37,820.53 929.77,826.05 930.19,819.20 930.44,829.70 931.15,827.37 931.45,834.65 931.97,814.72 932.67,817.93 933.31,819.08 933.58,820.35 934.20,823.38 934.88,830.82 935.32,821.19 935.57,823.55 936.15,823.68 936.81,829.86 937.12,817.51 937.67,829.49 938.39,808.13 938.61,798.48 938.64,810.92 938.77,824.25 939.18,808.20 939.76,821.04 940.30,810.18 940.82,831.47 941.15,812.91 941.82,834.34 942.10,836.38 942.27,814.26 942.40,809.53 943.11,824.72 943.68,812.61 944.22,816.33 944.71,814.60 945.03,826.96 945.39,813.29 945.76,832.38 946.47,819.98 946.79,826.96 947.21,816.95 947.52,827.50 947.93,822.43 948.66,822.54 949.32,827.61 950.00,831.92 950.39,816.34 950.83,827.86 951.54,824.39 952.18,824.19 952.59,824.22 953.14,832.51 953.82,822.71 954.45,829.37 955.15,832.41 955.50,824.63 956.12,823.12 956.47,834.78 957.03,823.17 957.53,832.05 958.26,824.77 958.97,835.17 959.38,822.79 960.00,826.27 960.00,837.41 960.16,825.48 960.64,826.78 960.98,835.35 961.24,824.70 961.92,834.16 962.42,827.07 962.71,828.04 963.19,826.99 963.58,834.83 964.28,825.21 964.96,835.45 965.54,834.27 966.22,828.21 966.76,822.95 967.34,834.70 967.95,824.25 968.51,823.99 968.86,816.81 968.93,822.63 969.02,831.23 969.35,827.52 969.88,825.79 970.34,825.91 971.02,822.65 971.29,829.60 971.72,823.17 972.41,824.72 973.13,823.94 973.81,834.37 974.25,826.89 974.80,834.60 975.11,825.79 975.76,834.96 976.46,826.03 976.99,835.95 977.25,834.21 977.80,838.06 978.23,830.56 978.55,837.01 978.84,835.02 979.39,830.17 979.51,838.44 979.65,832.41 979.68,829.41 980.30,832.76 980.83,828.19 981.22,835.48 981.49,829.20 982.11,834.84 982.76,830.78 983.43,833.88 983.87,825.11 984.45,837.34 984.84,829.01 985.27,836.37 985.71,831.99 986.08,836.15 986.57,827.39 986.91,826.85 987.53,822.73 987.84,821.54 988.50,821.52 988.93,829.64 989.49,827.72 990.02,831.24 990.34,816.78 990.84,830.41 991.27,820.37 991.71,821.07 992.17,820.22 992.68,826.99 993.09,820.00 993.72,828.52 996.51,801.98 998.62,755.42 1000.58,819.90 1002.85,787.35 1005.45,837.00 1008.71,836.38 1011.63,801.98 1013.59,831.23 1016.51,774.58 1018.47,750.89 1020.09,811.66 1022.53,629.35 1024.16,813.72 1025.78,834.32 1029.04,801.98 1032.29,837.00 1034.73,834.32 1037.17,830.20 1039.61,835.35 1042.86,834.32 1046.12,830.20 1049.37,836.38 1052.62,830.20 1055.06,834.32 1057.50,832.26" fill="none" stroke="#000" stroke-width="3" stroke-linejoin="round"/>
<line x1="186.8" y1="1032.3" x2="186.8" y2="1241.25" stroke="#000" stroke-width="2.2"/>
<line x1="185.8" y1="1241.25" x2="420.25" y2="1241.25" stroke="#000" stroke-width="2.5"/>
<line x1="180.3" y1="1241.25" x2="186.8" y2="1241.25" stroke="#000" stroke-width="2"/>
<text x="173.5" y="1247.25" text-anchor="end" class="cl">0</text>
<line x1="180.3" y1="1171.61" x2="186.8" y2="1171.61" stroke="#000" stroke-width="2"/>
<text x="173.5" y="1177.61" text-anchor="end" class="cl">0,2</text>
<line x1="180.3" y1="1101.97" x2="186.8" y2="1101.97" stroke="#000" stroke-width="2"/>
<text x="173.5" y="1107.97" text-anchor="end" class="cl">0,4</text>
<line x1="180.3" y1="1032.33" x2="186.8" y2="1032.33" stroke="#000" stroke-width="2"/>
<text x="173.5" y="1038.33" text-anchor="end" class="cl">0,6</text>
<line x1="186.80" y1="1241.25" x2="186.80" y2="1247.25" stroke="#000" stroke-width="2"/>
<text x="186.80" y="1266.8" text-anchor="middle" class="cl">2</text>
<line x1="220.01" y1="1241.25" x2="220.01" y2="1247.25" stroke="#000" stroke-width="2"/>
<text x="220.01" y="1266.8" text-anchor="middle" class="cl">4</text>
<line x1="253.21" y1="1241.25" x2="253.21" y2="1247.25" stroke="#000" stroke-width="2"/>
<text x="253.21" y="1266.8" text-anchor="middle" class="cl">6</text>
<line x1="286.42" y1="1241.25" x2="286.42" y2="1247.25" stroke="#000" stroke-width="2"/>
<text x="286.42" y="1266.8" text-anchor="middle" class="cl">8</text>
<line x1="319.63" y1="1241.25" x2="319.63" y2="1247.25" stroke="#000" stroke-width="2"/>
<text x="319.63" y="1266.8" text-anchor="middle" class="cl">10</text>
<line x1="352.84" y1="1241.25" x2="352.84" y2="1247.25" stroke="#000" stroke-width="2"/>
<text x="352.84" y="1266.8" text-anchor="middle" class="cl">12</text>
<line x1="386.04" y1="1241.25" x2="386.04" y2="1247.25" stroke="#000" stroke-width="2"/>
<text x="386.04" y="1266.8" text-anchor="middle" class="cl">14</text>
<line x1="419.25" y1="1241.25" x2="419.25" y2="1247.25" stroke="#000" stroke-width="2"/>
<text x="419.25" y="1266.8" text-anchor="middle" class="cl">16</text>
<text x="305" y="1290" text-anchor="middle" class="cl"><tspan font-style="italic">f</tspan>, ГГц</text>
<text x="316" y="1317.5" text-anchor="middle" class="cl" font-style="italic">а</text>
<text x="170" y="1056.3" text-anchor="end" class="cl" font-style="italic">dE/df,</text>
<text x="177" y="1078.7" text-anchor="end" class="cl">отн. ед.</text>
<polygon points="202.57,1199.47 204.23,1171.61 208.38,1143.75 213.37,1126.34 218.35,1143.75 226.65,1136.79 233.29,1136.79 241.59,1157.68 253.21,1178.57 263.18,1182.06 269.82,1195.98 286.42,1206.43 303.02,1213.39 306.35,1223.84 317.97,1223.84 319.63,1230.80 319.63,1234.29 311.33,1234.29 303.02,1227.32 286.42,1223.84 269.82,1216.88 253.21,1209.91 244.91,1206.43 236.61,1199.47 226.65,1199.47 218.35,1192.50 213.37,1182.06 204.23,1185.54 202.57,1206.43" fill="#000" fill-opacity="0.0"/>
<polyline points="186.80,1235.40 187.20,1240.87 187.73,1235.73 188.37,1240.67 188.82,1236.58 189.31,1232.98 189.83,1236.10 190.39,1239.13 190.66,1236.06 191.33,1239.00 191.83,1233.41 192.42,1236.04 192.77,1234.69 193.25,1239.83 193.86,1235.54 194.51,1235.71 194.97,1234.52 195.63,1238.41 196.26,1238.27 196.59,1237.70 196.93,1232.89 197.23,1237.04 197.81,1234.68 198.23,1237.01 198.60,1233.35 199.19,1236.20 199.77,1232.90 200.20,1231.90 200.55,1215.81 201.29,1213.33 201.83,1197.65 202.33,1207.20 202.97,1164.44 203.40,1081.08 203.57,1163.95 203.70,1171.65 204.01,1101.14 204.68,1172.45 205.27,1146.21 205.62,1167.69 206.19,1137.66 206.68,1171.10 207.15,1113.77 207.90,1186.01 208.55,1123.80 209.02,1124.50 209.38,1111.02 210.06,1129.20 210.70,1154.42 211.33,1170.23 211.67,1102.61 212.00,1190.61 212.39,1096.08 212.87,1039.29 212.90,1130.39 213.03,1146.54 213.55,1136.22 213.86,1164.19 214.24,1092.59 214.81,1189.43 215.40,1152.49 215.76,1183.84 216.16,1160.35 216.89,1167.25 217.33,1129.28 218.04,1199.42 218.53,1119.26 219.18,1200.03 219.77,1138.51 220.34,1190.42 220.62,1140.99 221.12,1183.58 221.60,1169.97 222.16,1202.81 222.73,1126.32 223.05,1180.01 223.32,1137.84 223.71,1181.23 224.10,1139.77 224.76,1215.14 225.13,1184.29 225.49,1164.53 225.99,1185.02 226.55,1195.02 226.83,1146.39 226.98,1095.01 227.15,1182.40 227.16,1194.17 227.60,1112.41 228.06,1217.69 228.72,1196.05 229.07,1221.85 229.44,1141.81 230.18,1209.61 230.66,1156.42 230.88,1225.58 231.05,1141.63 231.24,1222.92 231.65,1177.42 231.91,1223.20 232.52,1140.50 232.79,1081.08 232.96,1181.39 232.98,1183.67 233.36,1160.00 233.82,1206.83 234.35,1158.91 234.66,1208.42 235.27,1164.69 235.63,1211.58 236.26,1162.70 236.51,1210.46 236.90,1158.81 237.53,1202.76 237.91,1159.41 238.61,1218.82 239.30,1161.13 239.94,1219.94 240.46,1152.15 241.09,1199.27 241.74,1159.11 242.36,1219.05 242.98,1142.14 243.59,1211.68 244.28,1209.86 244.96,1213.88 245.43,1200.14 245.84,1200.05 246.25,1179.55 246.91,1218.62 247.50,1175.29 247.86,1222.36 248.20,1179.55 248.55,1220.97 248.84,1174.56 249.35,1219.97 249.81,1189.71 250.42,1214.28 250.94,1178.86 251.68,1212.15 252.06,1191.25 252.47,1227.32 252.63,1178.09 252.72,1215.30 253.15,1181.97 253.87,1223.47 254.16,1173.50 254.84,1204.21 255.34,1184.93 255.80,1225.91 256.13,1199.65 256.49,1206.33 257.02,1208.41 257.53,1218.68 257.93,1175.38 258.57,1210.75 258.95,1164.85 259.62,1212.78 260.28,1193.85 260.65,1220.31 261.04,1205.71 261.56,1214.35 262.25,1197.50 262.83,1204.64 263.01,1147.24 263.18,1201.30 263.19,1193.49 263.87,1218.57 264.61,1205.95 264.88,1224.40 265.29,1188.25 265.72,1218.77 266.01,1216.18 266.61,1211.21 267.24,1205.98 267.65,1219.11 267.96,1196.19 268.51,1221.63 269.17,1183.54 269.86,1222.34 270.13,1201.41 270.78,1207.01 271.06,1194.89 271.79,1225.77 272.05,1194.30 272.50,1227.84 272.84,1188.26 273.57,1214.94 273.89,1237.77 274.05,1201.69 274.18,1208.47 274.46,1219.33 274.71,1198.41 275.00,1215.15 275.27,1228.52 275.74,1213.16 276.16,1199.63 276.52,1230.88 277.09,1203.41 277.69,1212.09 278.15,1212.27 278.45,1233.53 279.07,1213.43 279.39,1227.49 279.74,1210.41 280.11,1232.81 280.59,1221.57 280.99,1233.98 281.41,1218.58 281.97,1226.69 282.49,1217.60 283.15,1226.53 283.59,1206.21 284.00,1229.10 284.26,1221.88 284.66,1219.48 285.30,1217.48 285.72,1232.94 286.36,1225.12 286.42,1195.98 286.50,1234.29 286.59,1222.80 286.67,1207.47 286.86,1229.93 287.60,1199.15 288.35,1221.43 288.91,1223.05 289.58,1218.65 289.97,1201.80 290.60,1226.60 290.97,1215.94 291.38,1207.95 291.65,1214.55 292.03,1220.54 292.54,1208.15 293.26,1220.07 293.69,1230.46 294.06,1216.87 294.55,1202.04 294.72,1195.98 294.89,1220.36 295.08,1219.25 295.81,1221.59 296.29,1225.93 296.89,1206.45 297.34,1230.59 297.91,1216.95 298.53,1224.69 298.95,1225.56 299.36,1225.22 300.09,1217.43 300.82,1232.86 301.53,1210.94 302.25,1227.25 302.87,1225.91 303.21,1233.89 303.77,1224.96 304.13,1234.78 304.53,1228.33 305.02,1234.32 305.55,1221.49 305.91,1232.05 306.44,1225.33 306.87,1234.59 307.48,1214.10 308.07,1232.09 308.72,1216.35 309.35,1237.00 309.67,1211.65 309.83,1230.08 310.08,1222.15 310.43,1236.89 310.76,1223.07 311.21,1237.90 311.86,1215.73 312.48,1232.37 313.06,1218.70 313.38,1235.82 313.87,1223.54 314.13,1232.94 314.60,1227.41 315.24,1238.67 315.78,1228.77 315.98,1211.65 316.14,1230.83 316.19,1226.38 316.47,1223.44 317.01,1237.72 317.52,1223.06 318.20,1237.18 318.54,1235.24 319.07,1230.29 319.55,1234.13 319.71,1239.51 319.88,1225.78 320.27,1236.58 320.83,1228.64 321.25,1237.74 321.96,1223.24 322.22,1233.91 322.81,1229.83 323.38,1237.99 323.89,1230.38 324.30,1228.47 325.01,1219.77 325.50,1239.05 326.16,1220.02 326.42,1238.68 326.60,1217.92 326.74,1222.98 326.77,1233.03 327.15,1238.56 327.79,1236.77 328.21,1239.02 328.80,1233.87 329.52,1237.65 330.15,1234.18 330.45,1236.61 331.07,1238.72 331.64,1235.67 332.05,1233.41 332.66,1238.23 333.06,1231.84 333.54,1239.48 334.22,1229.28 334.50,1237.75 335.08,1228.61 335.66,1238.33 336.37,1229.70 336.67,1238.71 337.04,1233.57 337.67,1239.49 338.21,1230.58 338.71,1236.35 338.99,1234.56 339.28,1236.58 339.55,1231.46 340.16,1237.93 340.62,1230.27 341.12,1234.94 341.69,1237.83 342.11,1236.68 342.46,1232.90 342.97,1234.47 343.29,1231.79 343.57,1238.76 343.93,1231.20 344.31,1239.45 344.72,1231.85 345.40,1238.97 345.91,1230.48 346.57,1237.59 347.25,1235.24 347.63,1237.05 348.29,1237.78 348.78,1238.72 349.36,1234.56 349.89,1237.08 350.20,1232.52 350.76,1235.72 351.02,1234.21 351.55,1237.79 351.87,1234.84 352.44,1238.23 352.99,1236.50 353.38,1237.90 353.67,1229.80 354.07,1239.20 354.58,1235.71 355.04,1239.35 355.40,1233.02 355.80,1237.78 356.13,1237.27 356.52,1238.11 356.82,1233.74 357.56,1238.96 358.20,1234.42 358.86,1238.24 359.28,1237.68 359.61,1237.52 360.16,1231.18 360.82,1236.70 361.14,1225.58 361.30,1235.33 361.50,1234.84 361.99,1232.74 362.36,1232.76 362.71,1238.64 363.04,1230.69 363.59,1235.71 364.22,1232.97 364.59,1238.85 365.10,1236.55 365.66,1238.94 366.01,1235.47 366.57,1239.40 367.17,1231.84 367.45,1237.01 367.89,1235.06 368.62,1239.33 369.04,1236.00 369.56,1238.93 369.99,1236.91 370.34,1236.18 370.91,1234.91 371.27,1235.76 371.98,1234.10 372.61,1238.04 373.08,1236.16 373.59,1239.47 374.07,1233.33 374.34,1235.44 374.88,1232.87 375.44,1236.27 376.10,1233.74 376.73,1239.09 377.12,1234.02 377.66,1238.73 378.01,1233.71 378.33,1239.42 378.76,1232.87 379.03,1236.54 379.71,1231.74 380.16,1238.09 380.81,1234.61 381.54,1235.96 382.24,1235.61 382.73,1235.23 383.36,1233.95 383.93,1239.38 384.27,1232.79 384.68,1239.47 385.28,1233.95 385.67,1236.79 386.08,1232.78 386.70,1238.50 387.29,1233.38 388.00,1239.10 388.46,1233.81 389.07,1237.97 389.42,1232.36 389.71,1239.09 390.22,1235.77 390.63,1238.05 390.94,1234.50 391.46,1236.61 392.07,1234.29 392.50,1239.22 393.00,1233.46 393.72,1239.32 394.32,1233.62 394.89,1237.85 395.51,1238.40 396.01,1239.17 396.43,1233.20 396.99,1238.14 397.62,1238.13 398.28,1236.55 398.69,1231.30 399.33,1239.28 399.60,1230.25 400.14,1239.32 400.79,1236.06 401.20,1238.26 401.66,1235.80 402.14,1238.45 402.45,1235.79 402.87,1237.81 403.56,1231.96 404.19,1236.05 404.58,1232.69 404.84,1239.24 405.47,1233.61 406.03,1238.99 406.55,1232.29 407.15,1237.16 407.66,1236.78 408.19,1238.93 408.80,1234.57 409.30,1237.67 409.99,1232.93 410.44,1237.88 410.87,1238.51 411.21,1238.98 411.59,1233.27 411.95,1233.55 412.46,1231.26 413.01,1236.75 413.60,1234.96 414.31,1237.71 414.86,1235.62 415.59,1237.48 416.10,1232.67 416.47,1238.69 416.73,1234.43 416.98,1236.83 417.34,1232.40 417.81,1237.85 418.47,1232.34 419.07,1238.99" fill="none" stroke="#000" stroke-width="2.8" stroke-linejoin="round"/>
<polyline points="203.74,1163.77 204.18,1127.29 204.56,1166.72 204.92,1173.20 205.28,1152.66 205.72,1164.22 205.94,1125.05 206.22,1167.97 206.47,1137.52 206.93,1169.42 207.37,1161.01 207.57,1186.10 208.01,1109.66 208.36,1145.26 208.57,1148.34 208.95,1166.88 209.35,1084.36 209.67,1118.54 209.96,1084.44 210.26,1144.91 210.68,1108.33 210.88,1155.52 211.24,1141.08 211.52,1161.69 211.72,1090.28 211.99,1174.46 212.32,1134.00 212.75,1099.37 213.00,1165.12 213.43,1130.35 213.64,1167.66 213.89,1177.65 214.19,1119.50 214.56,1171.19 214.80,1155.29 215.00,1180.05" fill="none" stroke="#000" stroke-width="2.8" stroke-linejoin="round"/>
<polyline points="215.03,1161.79 215.53,1172.47 216.11,1143.68 216.84,1191.32 217.11,1150.81 217.71,1179.84 218.02,1148.79 218.53,1190.62 218.88,1188.85 219.62,1179.26 220.08,1170.51 220.60,1165.70 221.25,1140.00 221.70,1187.85 222.04,1176.89 222.47,1183.70 222.88,1146.17 223.25,1173.52 223.81,1146.52 224.28,1179.91 224.82,1129.30 225.56,1171.15 225.88,1164.68 226.49,1172.20 226.99,1187.77 227.45,1167.29 228.01,1182.52 228.70,1163.78 229.32,1163.30 229.79,1165.98 230.43,1174.97 231.06,1157.46 231.68,1166.22 232.03,1155.13 232.53,1147.45 232.83,1189.91 233.22,1162.79 233.87,1199.03 234.60,1168.40 234.95,1185.84 235.63,1195.37 236.19,1165.54 236.93,1156.32 237.67,1195.32 238.25,1153.61 238.70,1172.18 239.33,1159.89 239.65,1148.71 240.26,1191.13 240.55,1178.14 241.04,1188.10 241.40,1198.79 241.71,1169.21 242.02,1179.00 242.28,1161.53 242.93,1185.07 243.26,1187.92 243.84,1178.98 244.57,1181.22 244.98,1187.57 245.30,1179.38 245.69,1180.85 246.42,1158.57 246.70,1185.68 247.05,1162.76 247.57,1205.46 248.25,1166.23 248.65,1204.01 249.14,1182.57 249.83,1202.31 250.51,1168.69 251.20,1169.96 251.50,1176.44 252.10,1193.29 252.58,1163.11 253.32,1205.02 253.70,1196.44 254.02,1179.75 254.69,1177.24 255.37,1203.40 255.64,1178.51 256.22,1192.87 256.71,1204.57 257.40,1174.13 257.67,1174.06 258.38,1196.61 258.83,1189.59 259.22,1200.73 259.48,1204.58 259.88,1203.25 260.42,1186.33 260.99,1192.60" fill="none" stroke="#000" stroke-width="2.8" stroke-linejoin="round"/>
<line x1="508" y1="1033.2" x2="508" y2="1240.7" stroke="#000" stroke-width="2.2"/>
<line x1="507" y1="1240.7" x2="761" y2="1240.7" stroke="#000" stroke-width="2.5"/>
<line x1="501.5" y1="1240.70" x2="508" y2="1240.70" stroke="#000" stroke-width="2"/>
<text x="494.5" y="1246.70" text-anchor="end" class="cl">0</text>
<line x1="501.5" y1="1171.50" x2="508" y2="1171.50" stroke="#000" stroke-width="2"/>
<text x="494.5" y="1177.50" text-anchor="end" class="cl">0,4</text>
<line x1="501.5" y1="1102.30" x2="508" y2="1102.30" stroke="#000" stroke-width="2"/>
<text x="494.5" y="1108.30" text-anchor="end" class="cl">0,8</text>
<line x1="501.5" y1="1033.10" x2="508" y2="1033.10" stroke="#000" stroke-width="2"/>
<text x="494.5" y="1039.10" text-anchor="end" class="cl">1,2</text>
<line x1="508.00" y1="1240.7" x2="508.00" y2="1246.7" stroke="#000" stroke-width="2"/>
<text x="508.00" y="1268.7" text-anchor="middle" class="cl">2</text>
<line x1="544.00" y1="1240.7" x2="544.00" y2="1246.7" stroke="#000" stroke-width="2"/>
<text x="544.00" y="1268.7" text-anchor="middle" class="cl">4</text>
<line x1="580.00" y1="1240.7" x2="580.00" y2="1246.7" stroke="#000" stroke-width="2"/>
<text x="580.00" y="1268.7" text-anchor="middle" class="cl">6</text>
<line x1="616.00" y1="1240.7" x2="616.00" y2="1246.7" stroke="#000" stroke-width="2"/>
<text x="616.00" y="1268.7" text-anchor="middle" class="cl">8</text>
<line x1="652.00" y1="1240.7" x2="652.00" y2="1246.7" stroke="#000" stroke-width="2"/>
<text x="652.00" y="1268.7" text-anchor="middle" class="cl">10</text>
<line x1="688.00" y1="1240.7" x2="688.00" y2="1246.7" stroke="#000" stroke-width="2"/>
<text x="688.00" y="1268.7" text-anchor="middle" class="cl">12</text>
<line x1="724.00" y1="1240.7" x2="724.00" y2="1246.7" stroke="#000" stroke-width="2"/>
<text x="724.00" y="1268.7" text-anchor="middle" class="cl">14</text>
<line x1="760.00" y1="1240.7" x2="760.00" y2="1246.7" stroke="#000" stroke-width="2"/>
<text x="760.00" y="1268.7" text-anchor="middle" class="cl">16</text>
<text x="637.3" y="1291.3" text-anchor="middle" class="cl"><tspan font-style="italic">f</tspan>, ГГц</text>
<text x="630.7" y="1318" text-anchor="middle" class="cl" font-style="italic">б</text>
<text x="489" y="1060.3" text-anchor="end" class="cl" font-style="italic">dE/df,</text>
<text x="495.6" y="1082.3" text-anchor="end" class="cl">отн. ед.</text>
<polygon points="525.10,1128.25 527.80,1093.65 535.00,1098.84 544.00,1105.76 554.80,1093.65 558.40,1123.06 567.40,1136.90 572.80,1154.20 583.60,1162.85 592.60,1154.20 607.00,1157.66 625.00,1162.85 643.00,1162.85 646.60,1192.26 657.40,1206.10 662.80,1219.94 670.00,1223.40 670.00,1230.32 662.80,1228.59 657.40,1223.40 646.60,1209.56 643.00,1185.34 625.00,1188.80 607.00,1188.80 592.60,1183.61 583.60,1188.80 572.80,1185.34 567.40,1168.04 558.40,1154.20 554.80,1145.55 544.00,1140.36 535.00,1133.44 527.80,1128.25 525.10,1136.90" fill="#000" fill-opacity="0.0"/>
<polyline points="508.00,1233.74 508.59,1235.90 509.01,1234.37 509.64,1236.74 510.28,1234.72 511.03,1235.15 511.56,1233.70 511.60,1231.18 511.78,1235.42 512.31,1236.22 512.80,1233.05 513.55,1236.81 514.19,1234.86 514.48,1236.00 515.20,1236.17 515.69,1236.96 516.29,1236.70 516.80,1236.74 517.58,1235.51 518.37,1236.91 518.66,1235.79 519.09,1237.22 519.39,1235.15 519.87,1237.01 520.22,1234.53 520.65,1237.04 521.03,1235.70 521.55,1236.43 522.25,1235.81 522.65,1236.07 522.85,1237.24 523.03,1233.61 523.36,1198.14 524.15,1188.30 524.90,1097.10 525.33,1157.04 525.46,1033.10 525.64,1118.35 525.96,1088.16 526.29,1102.03 526.91,1070.99 527.50,1133.54 527.80,1033.10 527.90,1048.34 527.98,1108.99 528.55,1121.34 528.96,1088.33 529.31,1123.41 530.08,1115.52 530.38,1131.32 531.08,1092.90 531.48,1142.71 532.12,1106.47 532.65,1139.27 533.02,1123.72 533.47,1136.12 533.75,1118.79 534.25,1141.39 535.06,1093.14 535.36,1138.91 535.71,1134.20 536.27,1128.13 536.73,1088.83 537.08,1146.38 537.52,1118.05 537.93,1112.88 538.38,1132.09 538.68,1111.13 539.07,1095.44 539.52,1116.53 539.93,1071.71 540.40,1046.94 540.58,1122.02 540.71,1151.28 541.37,1076.86 542.03,1145.35 542.39,1095.08 542.87,1126.25 543.64,1106.96 544.15,1157.30 544.68,1099.69 545.45,1114.81 545.85,1077.55 546.48,1140.68 547.18,1132.50 547.51,1173.23 547.69,1088.90 547.85,1168.33 548.54,1133.00 549.14,1135.83 549.40,1033.10 549.58,1119.14 549.74,1096.47 550.26,1140.26 550.69,1076.95 551.33,1121.86 551.74,1111.19 552.44,1086.04 552.92,1074.43 553.29,1151.06 553.66,1069.67 554.39,1154.77 554.44,1033.10 554.62,1120.17 554.94,1129.22 555.27,1144.89 555.65,1118.45 555.94,1155.87 556.55,1078.37 557.06,1156.77 557.39,1106.67 557.67,1148.78 558.03,1115.13 558.54,1163.02 558.86,1146.29 559.22,1152.12 559.72,1149.67 560.19,1164.54 560.91,1126.23 561.56,1171.95 561.85,1144.82 562.62,1167.02 563.07,1136.09 563.84,1179.70 564.11,1150.43 564.77,1166.35 565.48,1147.11 565.80,1170.97 566.57,1184.81 567.04,1107.49 567.08,1175.89 567.22,1168.25 567.47,1142.84 568.18,1193.42 568.70,1178.18 569.06,1190.90 569.85,1127.10 570.56,1176.09 571.29,1172.13 571.67,1197.95 572.06,1154.85 572.60,1207.88 573.28,1144.80 573.59,1194.53 573.94,1177.02 574.33,1223.40 574.51,1171.33 574.59,1212.18 575.30,1167.41 575.63,1209.47 576.22,1183.23 576.90,1210.26 577.36,1162.61 577.87,1178.56 578.20,1187.81 578.89,1198.11 579.52,1191.77 580.00,1149.01 580.12,1183.65 580.18,1186.55 580.85,1181.09 581.44,1198.53 581.91,1190.56 582.35,1209.29 582.71,1186.65 583.28,1196.46 583.69,1216.48 583.87,1183.78 584.05,1174.72 584.49,1201.17 584.99,1172.70 585.56,1202.33 585.94,1193.61 586.59,1197.06 587.33,1194.49 587.65,1203.83 588.21,1177.44 588.56,1198.64 588.94,1154.85 589.68,1198.84 590.37,1168.11 590.62,1114.41 590.76,1195.48 590.80,1172.87 591.32,1152.78 591.76,1196.78 592.17,1158.63 592.82,1192.20 593.41,1161.98 594.02,1185.95 594.65,1190.27 595.08,1190.93 595.48,1182.66 596.17,1192.76 596.95,1174.34 597.50,1189.50 598.00,1150.04 598.34,1193.69 598.68,1160.87 599.32,1189.56 600.02,1157.19 600.67,1193.85 601.38,1154.18 602.06,1198.33 602.68,1163.24 602.98,1201.09 603.48,1176.55 604.23,1197.90 604.59,1162.98 605.09,1198.10 605.74,1124.79 605.75,1200.52 605.92,1183.81 606.22,1195.04 606.65,1133.00 606.94,1206.14 607.09,1211.29 607.27,1152.94 607.48,1164.54 608.27,1194.35 609.00,1192.83 609.47,1189.81 609.89,1185.52 610.69,1205.21 611.47,1162.26 611.97,1201.13 612.49,1170.40 613.13,1198.92 613.72,1180.08 614.21,1195.18 614.98,1161.52 615.68,1200.89 616.41,1169.98 616.92,1198.93 617.66,1179.37 618.17,1203.91 618.54,1162.81 619.13,1185.93 619.71,1158.43 620.23,1187.73 620.97,1160.45 621.49,1204.37 621.55,1194.61 621.67,1166.83 622.06,1184.85 622.43,1203.31 622.90,1180.90 623.62,1191.11 624.13,1172.45 624.56,1198.14 624.92,1145.53 625.70,1195.90 626.08,1173.20 626.82,1178.12 627.49,1134.42 628.02,1168.17 628.72,1138.30 628.78,1126.52 628.96,1179.56 629.46,1188.63 630.05,1151.55 630.50,1186.56 630.80,1136.23 631.51,1176.66 632.29,1141.13 632.96,1190.97 633.26,1173.28 634.03,1183.39 634.51,1163.36 635.29,1187.17 635.62,1154.39 636.39,1188.14 636.76,1175.74 637.51,1178.56 638.28,1159.95 638.69,1154.79 639.43,1180.05 640.09,1167.66 640.53,1142.80 641.20,1128.25 641.32,1178.23 641.38,1168.21 641.83,1167.87 642.51,1187.47 643.31,1168.13 643.65,1179.51 644.17,1181.68 644.76,1195.83 645.28,1189.51 645.65,1202.98 646.39,1201.33 647.18,1219.52 647.88,1194.03 648.16,1226.58 648.72,1224.21 648.85,1233.78 649.03,1201.12 649.24,1229.18 649.90,1216.04 650.61,1213.78 650.95,1204.31 651.67,1214.40 652.10,1211.70 652.76,1209.76 653.15,1213.21 653.82,1215.18 654.22,1203.44 654.59,1216.62 655.06,1197.25 655.47,1210.39 655.60,1188.80 655.78,1211.81 656.14,1197.64 656.45,1222.91 657.25,1205.62 657.90,1225.60 658.47,1204.93 659.20,1214.80 659.54,1211.35 659.86,1222.90 660.60,1221.09 661.25,1228.39 661.85,1223.42 662.53,1229.15 663.24,1221.97 663.80,1229.14 664.33,1220.42 664.82,1229.27 665.51,1216.68 665.84,1227.48 666.31,1213.59 666.59,1224.13 667.18,1217.32 667.96,1232.78 668.71,1232.61 668.99,1228.05 669.46,1206.10 669.64,1225.25 669.65,1218.72 669.96,1224.71 670.69,1227.30 670.97,1231.26 671.50,1220.60 672.14,1231.92 672.93,1222.23 673.52,1234.50 673.98,1224.78 674.77,1234.07 675.48,1225.38 675.91,1229.09 676.58,1224.30 677.25,1231.23 677.91,1231.48 678.61,1233.84 679.25,1228.28 680.04,1233.67 680.61,1231.57 681.03,1233.36 681.57,1224.07 681.89,1235.05 682.27,1224.64 682.90,1232.34 683.69,1231.67 684.09,1234.78 684.44,1231.50 684.76,1234.91 685.47,1231.00 685.89,1235.09 686.48,1230.28 687.17,1234.65 687.56,1232.07 687.84,1233.05 688.13,1229.85 688.42,1233.59 689.05,1228.55 689.48,1235.19 690.16,1230.13 690.93,1232.83 691.37,1231.09 691.87,1231.99 692.15,1224.21 692.69,1235.24 693.34,1231.29 694.05,1235.00 694.41,1227.91 694.90,1230.35 695.02,1219.94 695.20,1230.90 695.22,1234.71 695.71,1235.26 696.51,1233.21 697.16,1234.59 697.44,1234.20 697.77,1234.28 698.06,1234.52 698.69,1234.13 699.15,1230.54 699.51,1234.20 700.04,1232.95 700.71,1235.17 701.00,1232.54 701.46,1233.37 701.89,1232.28 702.62,1233.34 703.06,1228.32 703.75,1234.52 704.50,1233.42 705.08,1235.15 705.38,1232.87 705.91,1234.19 706.61,1231.91 706.94,1232.69 707.50,1228.79 708.00,1234.97 708.58,1229.38 709.31,1231.98 710.03,1225.77 710.68,1233.43 711.03,1232.90 711.56,1233.06 712.14,1230.75 712.77,1235.70 713.15,1230.31 713.74,1223.40 713.78,1230.56 713.92,1232.09 714.09,1225.26 714.59,1235.59 715.36,1231.40 715.85,1235.36 716.52,1232.47 717.15,1235.69 717.77,1233.29 718.33,1233.14 718.92,1232.21 719.31,1233.73 719.72,1231.27 720.53,1235.44 720.99,1232.20 721.37,1235.40 721.72,1234.40 722.32,1235.44 722.99,1234.47 723.40,1235.08 723.84,1232.66 724.47,1235.52 725.26,1231.61 725.94,1235.44 726.46,1233.71 726.89,1235.82 727.40,1234.46 728.05,1235.95 728.40,1234.05 728.68,1235.69 729.33,1231.25 730.06,1235.76 730.50,1232.18 731.12,1234.79 731.41,1232.68 731.75,1235.81 732.55,1233.46 732.90,1235.90 733.71,1233.40 734.23,1235.05 734.50,1233.27 735.08,1235.28 735.81,1234.33 736.60,1235.32 737.17,1235.09 737.59,1236.04 738.08,1232.38 738.50,1235.93 738.99,1235.66 739.52,1234.47 740.10,1233.36 740.78,1233.98 741.40,1232.15 741.73,1235.72 742.54,1233.72 743.35,1234.41 744.06,1233.57 744.62,1234.54 745.23,1233.45 745.77,1234.09 746.29,1234.29 746.59,1235.92 746.89,1231.63 747.44,1234.23 747.88,1235.35 748.19,1235.58 748.91,1232.20 749.46,1235.46 750.14,1232.49 750.70,1236.23 751.02,1232.56 751.66,1235.81 752.36,1234.40 753.07,1236.13 753.53,1234.01 754.34,1236.04 754.91,1234.04 755.56,1234.69 756.02,1235.67 756.41,1235.98 757.03,1233.40 757.50,1235.87 758.10,1231.27 758.59,1235.68 759.03,1235.89 759.77,1235.66" fill="none" stroke="#000" stroke-width="2.8" stroke-linejoin="round"/>
<line x1="853.3" y1="1032.3" x2="853.3" y2="1240.7" stroke="#000" stroke-width="2.2"/>
<line x1="852.3" y1="1240.7" x2="1072.9" y2="1240.7" stroke="#000" stroke-width="2.5"/>
<line x1="846.8" y1="1240.70" x2="853.3" y2="1240.70" stroke="#000" stroke-width="2"/>
<text x="840" y="1246.70" text-anchor="end" class="cl">0</text>
<line x1="846.8" y1="1171.26" x2="853.3" y2="1171.26" stroke="#000" stroke-width="2"/>
<text x="840" y="1177.26" text-anchor="end" class="cl">0,4</text>
<line x1="846.8" y1="1101.82" x2="853.3" y2="1101.82" stroke="#000" stroke-width="2"/>
<text x="840" y="1107.82" text-anchor="end" class="cl">0,8</text>
<line x1="846.8" y1="1032.38" x2="853.3" y2="1032.38" stroke="#000" stroke-width="2"/>
<text x="840" y="1038.38" text-anchor="end" class="cl">1,2</text>
<line x1="853.30" y1="1240.7" x2="853.30" y2="1246.7" stroke="#000" stroke-width="2"/>
<text x="853.30" y="1265.5" text-anchor="middle" class="cl">2</text>
<line x1="884.53" y1="1240.7" x2="884.53" y2="1246.7" stroke="#000" stroke-width="2"/>
<text x="884.53" y="1265.5" text-anchor="middle" class="cl">4</text>
<line x1="915.76" y1="1240.7" x2="915.76" y2="1246.7" stroke="#000" stroke-width="2"/>
<text x="915.76" y="1265.5" text-anchor="middle" class="cl">6</text>
<line x1="946.99" y1="1240.7" x2="946.99" y2="1246.7" stroke="#000" stroke-width="2"/>
<text x="946.99" y="1265.5" text-anchor="middle" class="cl">8</text>
<line x1="978.21" y1="1240.7" x2="978.21" y2="1246.7" stroke="#000" stroke-width="2"/>
<text x="978.21" y="1265.5" text-anchor="middle" class="cl">10</text>
<line x1="1009.44" y1="1240.7" x2="1009.44" y2="1246.7" stroke="#000" stroke-width="2"/>
<text x="1009.44" y="1265.5" text-anchor="middle" class="cl">12</text>
<line x1="1040.67" y1="1240.7" x2="1040.67" y2="1246.7" stroke="#000" stroke-width="2"/>
<text x="1040.67" y="1265.5" text-anchor="middle" class="cl">14</text>
<line x1="1071.90" y1="1240.7" x2="1071.90" y2="1246.7" stroke="#000" stroke-width="2"/>
<text x="1071.90" y="1265.5" text-anchor="middle" class="cl">16</text>
<text x="963.3" y="1287.3" text-anchor="middle" class="cl"><tspan font-style="italic">f</tspan>, ГГц</text>
<text x="954" y="1318" text-anchor="middle" class="cl" font-style="italic">в</text>
<text x="834.5" y="1058.3" text-anchor="end" class="cl" font-style="italic">dE/df,</text>
<text x="840.5" y="1080.3" text-anchor="end" class="cl">отн. ед.</text>
<polygon points="868.13,1145.22 870.48,1110.50 876.72,1105.29 884.53,1115.71 892.34,1133.07 900.14,1145.22 915.76,1150.43 931.37,1153.90 943.86,1153.90 950.11,1133.07 962.60,1127.86 973.53,1119.18 986.02,1122.65 989.14,1162.58 996.95,1188.62 1006.32,1202.51 1009.44,1214.66 1009.44,1223.34 1006.32,1219.87 996.95,1209.45 989.14,1197.30 986.02,1167.79 973.53,1162.58 962.60,1167.79 950.11,1174.73 943.86,1185.15 931.37,1188.62 915.76,1185.15 900.14,1185.15 892.34,1179.94 884.53,1167.79 876.72,1162.58 870.48,1162.58 868.13,1171.26" fill="#000" fill-opacity="0.0"/>
<polyline points="853.30,1235.50 853.86,1239.12 855.01,1233.95 856.03,1238.90 857.11,1234.79 857.86,1237.56 858.77,1236.73 859.32,1237.58 860.38,1235.26 861.62,1237.09 862.49,1235.73 863.33,1236.93 864.07,1232.20 865.12,1237.08 866.29,1229.90 867.34,1194.12 868.55,1118.24 869.22,1193.32 870.15,1105.65 871.13,1159.17 871.94,1150.32 872.93,1182.86 873.44,1035.85 873.60,1152.46 873.85,1083.83 874.81,1170.45 875.64,1159.94 876.55,1191.53 877.55,1091.42 878.26,1179.53 879.26,1128.53 880.14,1144.79 880.77,1124.34 881.42,1150.23 882.15,1143.53 882.50,1041.06 882.65,1138.57 882.74,1178.12 884.15,1126.65 885.17,1183.15 886.14,1152.82 886.83,1164.92 887.10,1200.77 887.26,1125.43 887.96,1126.17 889.16,1186.49 890.45,1123.17 891.63,1173.30 892.80,1093.14 892.92,1132.49 892.96,1164.57 893.70,1131.20 894.61,1164.28 895.69,1143.93 896.23,1158.36 896.80,1156.15 897.63,1144.38 898.77,1209.80 899.65,1194.44 900.06,1214.66 900.22,1146.86 900.63,1198.10 901.92,1152.95 902.78,1184.79 903.85,1169.34 904.97,1195.00 906.30,1147.86 907.01,1107.03 907.17,1178.52 907.69,1203.15 908.73,1146.85 909.63,1189.85 910.56,1177.07 911.90,1170.95 912.68,1172.54 913.63,1192.06 914.80,1142.12 915.88,1158.94 916.86,1156.68 917.98,1155.05 918.82,1179.64 919.35,1093.14 919.40,1180.18 919.50,1177.35 920.18,1112.53 921.24,1186.58 922.28,1152.24 922.71,1216.40 922.86,1152.12 922.96,1157.33 923.71,1184.12 924.84,1200.58 925.53,1165.84 926.08,1210.81 926.95,1178.50 928.31,1209.29 929.03,1124.39 929.19,1184.35 929.33,1156.85 930.58,1199.79 931.24,1140.77 932.46,1209.67 933.66,1181.43 934.75,1192.96 935.71,1178.51 936.77,1210.73 937.48,1159.39 938.62,1214.48 938.79,1226.81 938.94,1157.80 939.93,1137.51 940.72,1194.76 941.36,1115.71 941.42,1171.18 941.52,1186.74 941.99,1202.39 942.88,1155.60 943.67,1196.17 944.80,1164.88 945.82,1183.33 946.34,1146.96 946.89,1163.65 948.09,1151.27 948.68,1192.63 949.19,1172.93 949.66,1200.99 950.64,1125.31 951.05,1084.46 951.20,1169.70 951.22,1178.67 952.50,1113.09 952.53,1207.72 952.68,1124.64 953.32,1197.17 954.46,1105.93 955.63,1169.83 956.48,1161.26 957.00,1201.28 958.38,1159.45 959.18,1190.85 960.13,1146.08 961.36,1171.76 962.07,1127.36 962.99,1194.75 963.49,1128.68 964.65,1190.94 965.13,1176.82 966.33,1159.53 967.60,1138.97 968.67,1174.41 969.43,1159.75 970.68,1128.32 971.97,1080.94 972.58,1170.64 973.66,1129.22 974.39,1190.36 974.39,1179.07 974.54,1111.76 974.89,1170.90 975.54,1184.46 976.18,1077.52 976.34,1156.24 976.79,1097.85 977.56,1174.85 978.07,1100.74 978.54,1179.09 979.13,1148.00 980.22,1169.90 980.70,1168.03 981.70,1187.93 982.87,1118.08 983.36,1175.11 984.30,1133.64 985.07,1186.31 986.39,1140.14 986.90,1188.86 987.54,1146.17 988.43,1179.98 989.07,1162.09 989.83,1209.26 991.11,1171.48 991.68,1209.00 992.97,1219.87 993.06,1186.08 993.13,1176.12 994.39,1209.63 995.32,1179.93 996.39,1209.26 996.95,1194.98 997.98,1208.98 999.07,1208.99 1000.11,1212.65 1001.18,1191.23 1002.20,1216.88 1002.99,1205.66 1004.34,1219.05 1005.18,1208.44 1006.47,1217.00 1007.68,1213.74 1008.41,1221.27 1008.95,1222.46 1009.43,1220.12 1010.64,1232.27 1010.77,1238.96 1010.93,1220.74 1011.54,1232.58 1012.59,1218.07 1013.60,1215.53 1014.48,1206.73 1015.22,1219.68 1015.84,1191.60 1016.00,1185.15 1016.16,1210.42 1016.41,1219.16 1017.58,1196.69 1018.53,1210.77 1019.39,1223.36 1019.90,1227.82 1020.90,1226.58 1021.54,1237.23 1021.70,1227.51 1021.76,1230.66 1022.86,1226.34 1023.53,1236.45 1024.44,1229.76 1025.30,1228.90 1025.85,1215.81 1027.17,1229.94 1028.51,1226.86 1028.96,1208.41 1029.12,1225.09 1029.33,1225.84 1030.59,1212.72 1031.74,1227.34 1032.73,1219.24 1033.52,1225.11 1034.92,1217.05 1035.71,1228.14 1036.55,1222.31 1037.16,1229.92 1037.93,1221.60 1038.93,1231.89 1040.21,1230.63 1040.74,1236.42 1041.67,1231.28 1042.55,1236.84 1043.94,1236.41 1044.65,1238.96 1044.81,1229.76 1045.12,1238.78 1045.93,1228.49 1046.43,1234.80 1047.56,1232.44 1048.76,1235.68 1049.81,1228.00 1051.14,1236.77 1052.28,1231.59 1052.38,1223.34 1052.54,1233.34 1052.90,1236.25 1054.28,1229.47 1055.57,1235.79 1056.57,1234.22 1057.61,1236.32 1058.85,1233.25 1060.01,1234.75 1060.66,1232.34 1061.96,1235.81 1063.12,1228.98 1063.80,1229.27 1065.03,1227.06 1065.59,1231.49 1066.95,1230.67 1068.13,1234.51 1068.90,1226.74 1069.09,1223.34 1069.25,1231.07 1070.16,1231.65 1071.38,1230.16 1071.89,1233.47" fill="none" stroke="#000" stroke-width="2.8" stroke-linejoin="round"/>
<polyline points="868.91,1131.23 869.15,1158.39 869.52,1114.56 869.89,1144.79 870.33,1143.85 870.83,1150.54 871.29,1141.18 871.53,1158.34 872.05,1131.10 872.40,1140.84 872.60,1099.55 872.97,1160.02 873.35,1154.18 873.77,1123.64 874.12,1127.50 874.43,1133.17 874.78,1112.52 875.26,1134.32 875.73,1109.73 876.06,1155.52 876.53,1123.14 876.90,1141.00 877.18,1109.74 877.67,1150.34 878.12,1144.51 878.44,1120.24 879.00,1140.54 879.57,1161.09 879.95,1098.17 880.28,1147.84 880.82,1103.46 881.13,1140.75 881.68,1132.86 882.20,1141.95 882.60,1134.79 882.96,1164.70 883.51,1128.04 883.85,1140.50 884.14,1112.60 884.56,1161.73 884.96,1148.78 885.42,1165.95 885.69,1114.39 885.93,1136.60 886.39,1113.24 886.80,1146.88 887.37,1116.13 887.87,1137.14 888.16,1129.09 888.52,1133.50 888.81,1169.52" fill="none" stroke="#000" stroke-width="2.8" stroke-linejoin="round"/>
<polyline points="951.67,1131.30 952.09,1146.99 952.47,1126.26 952.83,1161.18 953.23,1115.71 953.47,1128.17 953.88,1135.52 954.21,1158.77 954.44,1119.83 954.85,1142.13 955.21,1146.25 955.58,1169.36 955.90,1148.44 956.32,1165.79 956.71,1146.95 957.23,1144.12 957.61,1124.65 958.02,1145.21 958.60,1142.99 958.94,1155.34 959.21,1120.42 959.53,1154.06 960.02,1127.29 960.45,1166.10 960.83,1134.79 961.40,1148.28 961.72,1116.87 962.10,1151.25 962.54,1117.84 962.97,1141.95 963.36,1143.48 963.88,1137.94 964.39,1114.68 964.61,1136.72 964.84,1153.38 965.34,1153.76 965.59,1138.13 966.15,1135.16 966.39,1126.21 966.87,1119.41 967.33,1114.63 967.78,1130.65 968.15,1127.92 968.53,1150.79 968.76,1158.19 969.07,1133.06 969.39,1136.95 969.91,1157.30 970.31,1137.05 970.84,1146.14 971.27,1150.77 971.71,1138.41 972.30,1138.76 972.77,1142.48 973.07,1136.04 973.40,1152.27 973.66,1127.63 974.16,1126.31 974.39,1128.17 974.90,1158.32 975.31,1109.02 975.75,1141.10 976.30,1137.74 976.67,1140.18 977.11,1121.87 977.46,1128.42 978.02,1123.88 978.31,1162.33 978.74,1128.25 979.24,1129.13 979.57,1111.80 980.03,1157.19 980.55,1114.18 980.75,1118.01 981.03,1119.21 981.54,1133.30 982.03,1127.63 982.57,1148.23 983.09,1123.60 983.36,1162.30 983.72,1133.67 983.92,1135.48 984.17,1117.85 984.54,1168.48 984.93,1111.56 985.33,1140.00 985.82,1140.76" fill="none" stroke="#000" stroke-width="2.8" stroke-linejoin="round"/>
<polyline points="889.21,1148.50 889.52,1152.10 890.05,1143.99 890.62,1166.69 890.94,1146.89 891.27,1156.67 891.87,1158.38 892.23,1168.49 892.62,1148.47 893.28,1159.69 893.71,1151.33 894.35,1170.21 894.92,1141.40 895.51,1181.54 895.89,1157.64 896.15,1174.22 896.41,1157.84 896.68,1165.38 897.00,1161.83 897.64,1174.14 897.99,1163.83 898.38,1161.31 898.67,1150.96 899.29,1169.54 899.59,1164.43 900.24,1162.44 900.75,1162.14 901.28,1174.21 901.75,1153.78 902.06,1156.09 902.73,1162.80 903.28,1153.90 903.72,1165.06 903.97,1162.53 904.57,1164.56 905.06,1180.21 905.38,1155.86 905.83,1171.39 906.14,1154.03 906.82,1157.73 907.22,1154.39 907.61,1155.23 908.13,1162.42 908.41,1169.62 908.69,1154.76 909.05,1169.59 909.45,1152.17 909.87,1172.56 910.31,1154.09 910.66,1182.45 910.95,1148.99 911.56,1165.65 912.16,1176.40 912.74,1181.37 912.99,1167.31 913.38,1181.14 914.08,1158.49 914.36,1178.19 914.65,1187.78 915.26,1184.80 915.71,1166.11 915.99,1166.91 916.62,1158.30 917.31,1156.53 917.77,1147.68 918.09,1174.83 918.56,1158.19 918.92,1180.20 919.46,1151.83 920.12,1174.67 920.80,1181.16 921.34,1176.14 921.68,1165.26 922.06,1184.96 922.52,1149.15 923.09,1169.40 923.59,1150.81 924.29,1178.11 924.69,1163.96 925.13,1186.47 925.37,1173.23 925.61,1171.29 926.23,1167.87 926.68,1167.94 927.17,1171.09 927.75,1181.71 928.34,1172.04 928.94,1175.68 929.25,1182.13 929.69,1168.77 930.29,1154.37 930.75,1184.65 931.12,1167.17 931.43,1185.26 931.77,1168.09 932.39,1185.26 933.08,1164.29 933.38,1183.44 933.74,1155.72 934.36,1174.82 934.70,1152.59 935.12,1182.03 935.44,1176.12 935.70,1180.54 936.17,1170.96 936.43,1181.19 936.74,1175.12 937.16,1183.00 937.83,1161.37 938.39,1181.79 938.95,1158.84 939.24,1171.10 939.73,1165.78 940.28,1162.67 940.96,1170.05 941.60,1155.60 941.85,1153.33 942.50,1150.70 943.07,1162.44 943.41,1167.84 944.03,1149.67 944.29,1181.25 944.73,1165.63 945.37,1165.06 945.62,1166.87 945.93,1154.63 946.47,1158.30 946.84,1152.46 947.53,1153.72 947.95,1178.41 948.22,1143.41 948.79,1163.35 949.41,1169.53 949.75,1154.55 950.34,1142.19 950.91,1160.36 951.39,1162.42" fill="none" stroke="#000" stroke-width="2.8" stroke-linejoin="round"/>
</svg>
</div></body></html>
